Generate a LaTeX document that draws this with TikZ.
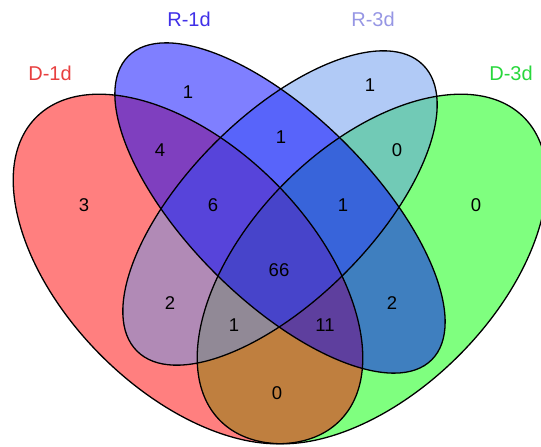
\documentclass[tikz,border=0pt]{standalone}
\usepackage{fontspec}
\setmainfont{Liberation Sans}
\definecolor{cRed}{RGB}{255,0,0}
\definecolor{cBlue}{RGB}{0,0,255}
\definecolor{cLBlue}{RGB}{100,149,237}
\definecolor{cGreen}{RGB}{0,255,0}
\definecolor{tRed}{RGB}{232,64,64}
\definecolor{tBlue}{RGB}{64,48,232}
\definecolor{tLBlue}{RGB}{150,150,228}
\definecolor{tGreen}{RGB}{40,215,60}
\tikzset{
  setfill/.style={fill=#1, fill opacity=0.5, draw=none},
  setline/.style={draw=black, line width=1.3pt},
  num/.style={font=\fontsize{18.5}{18.5}\selectfont, text=black, inner sep=0pt},
  cat/.style={font=\fontsize{20}{20}\selectfont, text=#1, inner sep=0pt}
}
\begin{document}
\begin{tikzpicture}[x=1pt,y=1pt]
\useasboundingbox (0,0) rectangle (541,447);
\clip (0,0) rectangle (541,447);
\coordinate (cR) at (188,178);
\coordinate (cG) at (372,178);
\coordinate (cB) at (280,239);
% fills
\fill[setfill=cGreen, rotate around={45:(cG)}] (cG) ellipse (214.6 and 122.6);
\fill[setfill=cRed, rotate around={135:(cR)}] (cR) ellipse (214.6 and 122.6);
\fill[setfill=cLBlue, rotate around={45:(cB)}] (cB) ellipse (202.3 and 92);
\fill[setfill=cBlue, rotate around={135:(cB)}] (cB) ellipse (214.6 and 92);
% outlines
\draw[setline, rotate around={45:(cG)}] (cG) ellipse (214.6 and 122.6);
\draw[setline, rotate around={135:(cR)}] (cR) ellipse (214.6 and 122.6);
\draw[setline, rotate around={45:(cB)}] (cB) ellipse (202.3 and 92);
\draw[setline, rotate around={135:(cB)}] (cB) ellipse (214.6 and 92);
% category labels
\node[cat=tRed] (lD1) at (50,374) {D-1d};
\node[cat=tBlue] (lR1) at (189,428) {R-1d};
\node[cat=tLBlue] (lR3) at (373,428) {R-3d};
\node[cat=tGreen] (lD3) at (511,374) {D-3d};
% counts
\node[num] (n1) at (188,355) {1};
\node[num] (n2) at (370,362) {1};
\node[num] (n3) at (160,297) {4};
\node[num] (n4) at (281,310) {1};
\node[num] (n5) at (397,297) {0};
\node[num] (n6) at (84,242) {3};
\node[num] (n7) at (213,242) {6};
\node[num] (n8) at (343,242) {1};
\node[num] (n9) at (476,242) {0};
\node[num] (n10) at (279,177) {66};
\node[num] (n11) at (170,144) {2};
\node[num] (n12) at (392,144) {2};
\node[num] (n13) at (234,122) {1};
\node[num] (n14) at (325,122) {11};
\node[num] (n15) at (277,54) {0};
\end{tikzpicture}
\end{document}
